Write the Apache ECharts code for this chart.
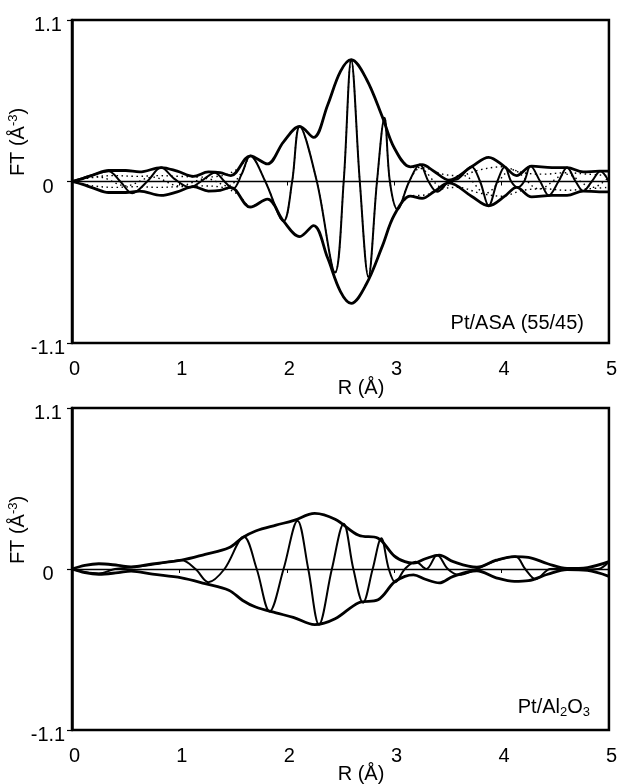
<!DOCTYPE html>
<html>
<head>
<meta charset="utf-8">
<script src="https://cdn.jsdelivr.net/npm/echarts@6/dist/echarts.min.js"></script>
<style>
  html, body { margin: 0; padding: 0; background: #fff; }
  #chart { width: 620px; height: 784px; }
</style>
</head>
<body>
<div id="chart"></div>
<script>
// ---- Pt/ASA (55/45): |FT| envelope and imaginary part ----
const rMagA = [0, 0.1, 0.2, 0.34, 0.5, 0.63, 0.83, 0.98, 1.13, 1.27, 1.38, 1.48, 1.66, 1.82, 1.97, 2.12, 2.25, 2.38, 2.5, 2.6, 2.74, 2.89, 3.0, 3.15, 3.26, 3.37, 3.51, 3.72, 3.88, 4.03, 4.14, 4.28, 4.47, 4.61, 4.76, 4.91, 5.0];
const magA  = [0, 0.02, 0.045, 0.075, 0.075, 0.065, 0.095, 0.07, 0.035, 0.065, 0.06, 0.04, 0.175, 0.12, 0.27, 0.375, 0.30, 0.52, 0.75, 0.83, 0.70, 0.44, 0.23, 0.10, 0.115, 0.07, 0.01, 0.10, 0.165, 0.10, 0.04, 0.105, 0.095, 0.095, 0.065, 0.07, 0.07];
const rImA  = [0, 0.17, 0.34, 0.45, 0.56, 0.7, 0.83, 0.95, 1.1, 1.2, 1.33, 1.42, 1.5, 1.58, 1.66, 1.8, 1.97, 2.05, 2.12, 2.28, 2.45, 2.53, 2.6, 2.68, 2.76, 2.84, 2.91, 2.96, 3.03, 3.14, 3.24, 3.32, 3.40, 3.51, 3.6, 3.72, 3.8, 3.88, 3.96, 4.03, 4.09, 4.15, 4.21, 4.27, 4.36, 4.44, 4.53, 4.61, 4.69, 4.76, 4.84, 4.92, 5.0];
const imA   = [0, 0.04, 0.07, 0, -0.08, 0, 0.095, 0.02, -0.04, 0, 0.06, 0, -0.05, 0.05, 0.175, 0, -0.27, 0, 0.375, 0, -0.62, 0, 0.83, 0, -0.65, 0, 0.435, 0, -0.19, 0, 0.115, 0, -0.07, 0, 0.02, 0.10, 0, -0.165, 0, 0.10, 0, -0.04, 0, 0.105, 0, -0.095, 0, 0.095, 0, -0.065, 0, 0.07, 0.0];
// fitted curves (dotted)
const rFitA   = [0, 0.2, 0.4, 0.6, 0.8, 1.0, 1.2, 1.4, 1.55, 1.66, 1.82, 1.97, 2.12, 2.25, 2.38, 2.5, 2.6, 2.74, 2.89, 3.0, 3.15, 3.3, 3.45, 3.6, 3.8, 4.0, 4.2, 4.4, 4.6, 4.8, 5.0];
const magFitA = [0, 0.03, 0.04, 0.035, 0.04, 0.035, 0.03, 0.04, 0.09, 0.17, 0.12, 0.27, 0.375, 0.30, 0.52, 0.75, 0.83, 0.70, 0.44, 0.23, 0.10, 0.09, 0.05, 0.04, 0.08, 0.1, 0.06, 0.05, 0.06, 0.05, 0.04];
const rImFitA = [0, 0.25, 0.5, 0.75, 1.0, 1.25, 1.45, 1.58, 1.66, 1.8, 1.97, 2.05, 2.12, 2.28, 2.45, 2.53, 2.6, 2.68, 2.76, 2.84, 2.91, 2.96, 3.03, 3.14, 3.24, 3.45, 3.65, 3.85, 4.1, 4.35, 4.6, 4.85, 5.0];
const imFitA  = [0, 0.03, -0.03, 0.03, -0.03, 0.02, -0.03, 0.06, 0.17, 0, -0.27, 0, 0.375, 0, -0.62, 0, 0.83, 0, -0.65, 0, 0.435, 0, -0.19, 0, 0.09, -0.04, 0.04, -0.08, 0.08, -0.05, 0.05, -0.04, 0.03];

// ---- Pt/Al2O3: |FT| envelope and imaginary part ----
const rMagB = [0, 0.12, 0.25, 0.43, 0.55, 0.75, 1.02, 1.24, 1.46, 1.59, 1.71, 1.9, 2.06, 2.26, 2.45, 2.67, 2.85, 3.0, 3.1, 3.18, 3.29, 3.42, 3.55, 3.77, 3.95, 4.12, 4.25, 4.43, 4.61, 4.8, 5.0];
const magB  = [0, 0.025, 0.036, 0.025, 0.015, 0.035, 0.06, 0.10, 0.145, 0.215, 0.26, 0.30, 0.33, 0.38, 0.34, 0.23, 0.21, 0.09, 0.05, 0.04, 0.07, 0.095, 0.05, 0.012, 0.06, 0.085, 0.08, 0.036, 0.004, 0.01, 0.05];
const rImB  = [0, 0.12, 0.25, 0.4, 0.55, 0.75, 1.02, 1.15, 1.27, 1.42, 1.6, 1.72, 1.84, 1.97, 2.1, 2.2, 2.3, 2.42, 2.53, 2.62, 2.71, 2.8, 2.88, 2.95, 3.01, 3.1, 3.2, 3.3, 3.4, 3.5, 3.6, 3.77, 3.92, 4.13, 4.22, 4.32, 4.45, 4.6, 4.75, 4.9, 5.0];
const imB   = [0, -0.02, -0.03, 0, 0.01, 0.03, 0.06, 0, -0.09, 0, 0.22, 0, -0.29, 0, 0.33, 0, -0.38, 0, 0.31, 0, -0.23, 0, 0.21, 0, -0.09, 0, 0.05, 0, 0.095, 0, -0.04, 0, 0.05, 0.085, 0, -0.07, 0, 0.004, -0.005, 0, 0.05];

const xTicks = [0, 1, 2, 3, 4, 5];
const yTicks = [-1.1, 0, 1.1];

function pts(xs, ys, sign) {
  return xs.map((x, i) => [x, sign * ys[i]]);
}

const chart = echarts.init(document.getElementById('chart'), null, { renderer: 'canvas' });

const FONT = 'Liberation Sans, Arial, sans-serif';
const FS = 20;
const panels = [
  { top: 20, height: 323 },
  { top: 408, height: 322 }
];

const grid = panels.map(p => ({
  left: 72, top: p.top, width: 539, height: p.height,
  show: true, borderColor: '#000', borderWidth: 2.5, backgroundColor: 'transparent'
}));

const xAxis = [];
panels.forEach((p, i) => {
  // zero line with tick marks
  xAxis.push({
    gridIndex: i, type: 'value', min: 0, max: 5, interval: 1,
    axisLine: { show: true, onZero: true, lineStyle: { color: '#000', width: 1.4 } },
    axisTick: { show: true, length: 4, lineStyle: { color: '#000', width: 1 } },
    axisLabel: { show: false }, splitLine: { show: false }
  });
  // bottom labels
  xAxis.push({
    gridIndex: i, type: 'value', min: 0, max: 5, interval: 1, position: 'bottom',
    axisLine: { show: false, onZero: false }, axisTick: { show: false },
    axisLabel: { show: true, color: '#000', fontSize: FS, fontFamily: FONT, margin: 16, padding: [0, 0, 0, 5],
      formatter: v => xTicks.includes(v) ? String(v) : '' },
    splitLine: { show: false }
  });
});

const yAxis = panels.map((p, i) => ({
  gridIndex: i, type: 'value', min: -1.1, max: 1.1, interval: 1.1,
  axisLine: { show: true, onZero: false, lineStyle: { color: '#000', width: 2.5 } },
  axisTick: { show: true, length: 5, lineStyle: { color: '#000', width: 1.2 } },
  axisLabel: { color: '#000', fontSize: FS, fontFamily: FONT, margin: 24, align: 'center',
    verticalAlign: 'top', lineHeight: 11,
    formatter: v => {
      const t = yTicks.find(k => Math.abs(k - v) < 1e-6);
      return t === undefined ? '' : (t === 0 ? '0' : t.toFixed(1));
    } },
  splitLine: { show: false }
}));

function line(xi, yi, data, width, dotted) {
  return {
    type: 'line', xAxisIndex: xi, yAxisIndex: yi, data: data,
    smooth: 0.35, symbol: 'none', silent: true,
    lineStyle: { color: '#000', width: width, type: dotted ? [1.5, 3.5] : 'solid' },
    z: dotted ? 2 : 3
  };
}

const series = [
  line(0, 0, pts(rFitA, magFitA, 1), 1.4, true),
  line(0, 0, pts(rFitA, magFitA, -1), 1.4, true),
  line(0, 0, pts(rImFitA, imFitA, 1), 1.4, true),
  line(0, 0, pts(rMagA, magA, 1), 2.8, false),
  line(0, 0, pts(rMagA, magA, -1), 2.8, false),
  line(0, 0, pts(rImA, imA, 1), 2, false),
  line(2, 1, pts(rMagB, magB, 1), 2.8, false),
  line(2, 1, pts(rMagB, magB, -1), 2.8, false),
  line(2, 1, pts(rImB, imB, 1), 2, false)
];

const ftRich = {
  a: { fontSize: FS, fontFamily: FONT, fill: '#000' },
  s: { fontSize: 13, fontFamily: FONT, fill: '#000', padding: [0, 0, 9, 0] }
};

const graphic = [
  { type: 'text', x: 18, y: 142, rotation: Math.PI / 2, style: { text: '{a|FT (Å}{s|-3}{a|)}', rich: ftRich, fill: '#000', align: 'center', verticalAlign: 'middle' } },
  { type: 'text', x: 18, y: 530, rotation: Math.PI / 2, style: { text: '{a|FT (Å}{s|-3}{a|)}', rich: ftRich, fill: '#000', align: 'center', verticalAlign: 'middle' } },
  { type: 'text', x: 361, y: 388, style: { text: 'R (Å)', font: FS + 'px ' + FONT, fill: '#000', align: 'center', verticalAlign: 'middle' } },
  { type: 'text', x: 361, y: 774, style: { text: 'R (Å)', font: FS + 'px ' + FONT, fill: '#000', align: 'center', verticalAlign: 'middle' } },
  { type: 'text', x: 584, y: 323, style: { text: 'Pt/ASA (55/45)', font: FS + 'px ' + FONT, fill: '#000', align: 'right', verticalAlign: 'middle' } },
  { type: 'text', x: 590, y: 707, style: { text: '{a|Pt/Al}{s|2}{a|O}{s|3}', fill: '#000', align: 'right', verticalAlign: 'middle',
      rich: { a: { fontSize: FS, fontFamily: FONT, fill: '#000' }, s: { fontSize: 13, fontFamily: FONT, fill: '#000', padding: [11, 0, 0, 0] } } } }
];

chart.setOption({
  animation: false,
  backgroundColor: '#fff',
  grid: grid,
  xAxis: xAxis,
  yAxis: yAxis,
  series: series,
  graphic: graphic
});
</script>
</body>
</html>
